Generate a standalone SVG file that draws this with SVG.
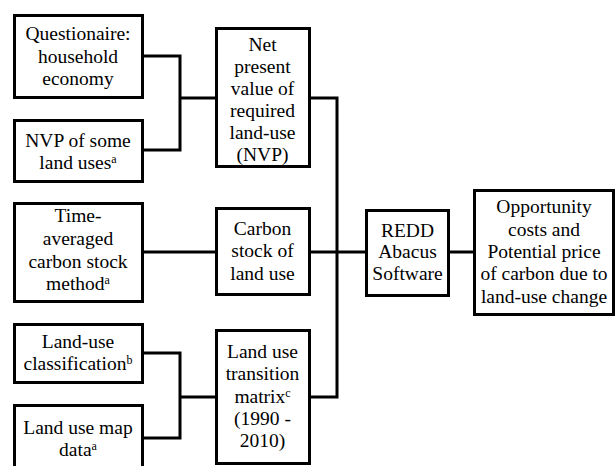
<svg xmlns="http://www.w3.org/2000/svg" width="615" height="466" viewBox="0 0 615 466">
<style>
.box{fill:#fff;stroke:#000;stroke-width:3}
.ln{fill:none;stroke:#000;stroke-width:3}
.t{font-family:"Liberation Serif","Times New Roman",serif;font-size:19.5px;fill:#000;text-anchor:middle}
.sup{font-size:12px}
</style>
<rect width="615" height="466" fill="#fff"/>
<g id="connectors">
<polyline class="ln" points="143,56 180,56 180,150 143,150"/>
<line class="ln" x1="180" y1="98" x2="215" y2="98"/>
<line class="ln" x1="143" y1="252" x2="215" y2="252"/>
<polyline class="ln" points="143,353 180,353 180,438 143,438"/>
<line class="ln" x1="180" y1="397" x2="215" y2="397"/>
<polyline class="ln" points="310,98 337,98 337,397 310,397"/>
<line class="ln" x1="310" y1="252" x2="365" y2="252"/>
<line class="ln" x1="449" y1="252" x2="473" y2="252"/>
</g>
<g id="questionaire">
<rect class="box" x="14.5" y="15.5" width="128" height="82"/>
<text class="t" x="78" y="40">Questionaire:</text>
<text class="t" x="78" y="63">household</text>
<text class="t" x="78" y="85">economy</text>
</g>
<g id="nvp-some">
<rect class="box" x="14.5" y="120.5" width="128" height="61"/>
<text class="t" x="78" y="147">NVP of some</text>
<text class="t" x="78" y="169">land uses<tspan class="sup" dy="-6">a</tspan></text>
</g>
<g id="time-averaged">
<rect class="box" x="14.5" y="203.5" width="128" height="98"/>
<text class="t" x="78" y="222">Time-</text>
<text class="t" x="78" y="245">averaged</text>
<text class="t" x="78" y="268">carbon stock</text>
<text class="t" x="78" y="290">method<tspan class="sup" dy="-6">a</tspan></text>
</g>
<g id="classification">
<rect class="box" x="14.5" y="324.5" width="128" height="58"/>
<text class="t" x="78" y="348">Land-use</text>
<text class="t" x="78" y="370">classification<tspan class="sup" dy="-6">b</tspan></text>
</g>
<g id="map-data">
<rect class="box" x="14.5" y="405.5" width="128" height="70"/>
<text class="t" x="78" y="434">Land use map</text>
<text class="t" x="78" y="456">data<tspan class="sup" dy="-6">a</tspan></text>
</g>
<g id="npv">
<rect class="box" x="216.5" y="28.5" width="93" height="138"/>
<text class="t" x="262.5" y="51">Net</text>
<text class="t" x="262.5" y="73">present</text>
<text class="t" x="262.5" y="95">value of</text>
<text class="t" x="262.5" y="117">required</text>
<text class="t" x="262.5" y="139">land-use</text>
<text class="t" x="262.5" y="161">(NVP)</text>
</g>
<g id="carbon-stock">
<rect class="box" x="216.5" y="208.5" width="93" height="86"/>
<text class="t" x="262.5" y="235">Carbon</text>
<text class="t" x="262.5" y="257">stock of</text>
<text class="t" x="262.5" y="280">land use</text>
</g>
<g id="transition">
<rect class="box" x="216.5" y="330.5" width="93" height="133"/>
<text class="t" x="262.5" y="358">Land use</text>
<text class="t" x="262.5" y="380">transition</text>
<text class="t" x="262.5" y="403">matrix<tspan class="sup" dy="-6">c</tspan></text>
<text class="t" x="262.5" y="425">(1990 -</text>
<text class="t" x="262.5" y="447">2010)</text>
</g>
<g id="redd">
<rect class="box" x="366.5" y="210.5" width="82" height="85"/>
<text class="t" x="407.5" y="237">REDD</text>
<text class="t" x="407.5" y="258">Abacus</text>
<text class="t" x="407.5" y="280">Software</text>
</g>
<g id="opportunity">
<rect class="box" x="474.5" y="190.5" width="139" height="124"/>
<text class="t" x="544" y="213">Opportunity</text>
<text class="t" x="544" y="236">costs and</text>
<text class="t" x="544" y="258">Potential price</text>
<text class="t" x="544" y="280">of carbon due to</text>
<text class="t" x="544" y="303">land-use change</text>
</g>
</svg>
